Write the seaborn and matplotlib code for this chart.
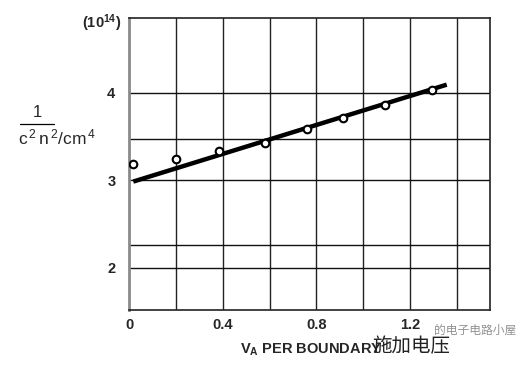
import matplotlib
matplotlib.use("Agg")
import matplotlib.pyplot as plt
import seaborn as sns
import pandas as pd

# ---- data ----
va_points = [0.017, 0.199, 0.385, 0.578, 0.758, 0.912, 1.093, 1.296]
inv_c2n2_points = [3.186, 3.243, 3.334, 3.430, 3.589, 3.710, 3.863, 4.038]
fit_va = [0.017, 1.357]
fit_inv = [2.985, 4.095]
x_ticks = [0, 0.4, 0.8, 1.2]
x_tick_labels = ["0", "0.4", "0.8", "1.2"]
x_grid = [0.2, 0.4, 0.6, 0.8, 1.0, 1.2, 1.4]
y_ticks = [2, 3, 4]
y_tick_labels = ["2", "3", "4"]
y_grid = [2.262, 3.475]

sns.set_theme(style="white")
plt.rcParams['font.family'] = ['Liberation Sans', 'Noto Sans CJK SC', 'DejaVu Sans']
plt.rcParams['mathtext.fontset'] = 'custom'
plt.rcParams['mathtext.rm'] = 'Liberation Sans'
plt.rcParams['mathtext.bf'] = 'Liberation Sans:bold'

fig = plt.figure(figsize=(5.24, 3.65), dpi=100)
ax = fig.add_axes([129.3/524, 1-310/365, (490-129.3)/524, (310-18.3)/365])

ax.set_xlim(0, 1.542)
ax.set_ylim(1.514, 4.855)

for xv in x_grid:
    ax.axvline(xv, color="#222222", lw=1.0, zorder=1)
for yv in y_ticks + y_grid:
    ax.axhline(yv, color="#111111", lw=1.0, zorder=1)

pts = pd.DataFrame({"va": va_points, "inv": inv_c2n2_points})
fit = pd.DataFrame({"va": fit_va, "inv": fit_inv})
sns.lineplot(data=fit, x="va", y="inv", ax=ax, color="black", lw=3.2,
             solid_capstyle="butt", zorder=3)
sns.scatterplot(data=pts, x="va", y="inv", ax=ax, marker="o", s=30,
                facecolor="white", edgecolor="black", linewidth=1.5, zorder=4)

for side in ["top", "right", "bottom"]:
    ax.spines[side].set_color("#222222")
    ax.spines[side].set_linewidth(1.2)
ax.spines["left"].set_color("#8a8a8a")
ax.spines["left"].set_linewidth(2.0)

ax.set_xticks(x_ticks)
ax.set_xticklabels(x_tick_labels, fontsize=10.5, fontweight="bold")
ax.set_yticks(y_ticks)
ax.set_yticklabels(y_tick_labels, fontsize=10.5, fontweight="bold")
ax.tick_params(axis="x", length=0, pad=6)
ax.tick_params(axis="y", length=0, pad=10)
ax.set_xlabel("")
ax.set_ylabel("")

# top exponent label
fig.text(121/524, 1-23/365, r"$\mathbf{(10^{14})}$", ha="right", va="center",
         fontsize=10.5)

# y-axis label as a fraction
fig.text(37/524, 1-113/365, "1", ha="center", va="center", fontsize=12)
fig.add_artist(plt.Line2D([20/524, 54/524], [1-124/365, 1-124/365],
                          color="black", lw=0.9))
fig.text(18/524, 1-137/365, r"$\mathregular{c^{\,2}\,n^{\,2}/cm^{\,4}}$",
         ha="left", va="center", fontsize=12.5)

# x-axis label
fig.text(240/524, 1-350/365, r"$\mathbf{V_{A}}$" + " PER BOUNDARY",
         ha="left", va="center", fontsize=10.5, fontweight="bold")
fig.text(372/524, 1-347/365, "施加电压", ha="left", va="center",
         fontsize=14, color="#222222",
         family=['Noto Sans CJK SC', 'DejaVu Sans'])
fig.text(516/524, 1-330/365, "的电子电路小屋", ha="right", va="center",
         fontsize=8.5, color="#777777", alpha=0.8,
         family=['Noto Sans CJK SC', 'DejaVu Sans'])

fig.savefig("out.png", dpi=100, facecolor="white")
